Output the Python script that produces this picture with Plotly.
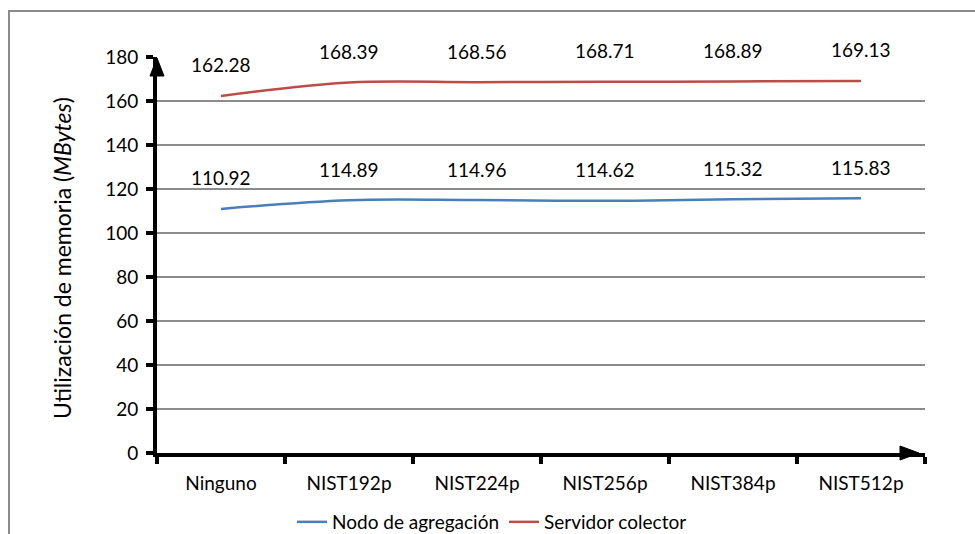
import plotly.graph_objects as go

# Chart data
categories = ["Ninguno", "NIST192p", "NIST224p", "NIST256p", "NIST384p", "NIST512p"]
nodo_agregacion = [110.92, 114.89, 114.96, 114.62, 115.32, 115.83]
servidor_colector = [162.28, 168.39, 168.56, 168.71, 168.89, 169.13]
y_ticks = [0, 20, 40, 60, 80, 100, 120, 140, 160, 180]

W, H = 975, 534
L, R, T, B = 157, 50, 57, 81
PW, PH = W - L - R, H - T - B
FONT = "Lato, Carlito, Calibri, sans-serif"
FS = 19


def px_x(px):
    return (px - L) / PW


def px_y(py):
    return (H - B - py) / PH


fig = go.Figure()
series = [
    ("Nodo de agregación", nodo_agregacion, "#4A7EBB"),
    ("Servidor colector", servidor_colector, "#BE4B48"),
]
for name, vals, color in series:
    fig.add_trace(go.Scatter(
        x=categories, y=vals, name=name, mode="lines",
        line=dict(color=color, width=2.5, shape="spline", smoothing=1),
    ))

annotations = []
for name, vals, color in series:
    for c, v in zip(categories, vals):
        annotations.append(dict(
            x=c, y=v, xref="x", yref="y", text=f"{v:.2f}", showarrow=False,
            yshift=31, font=dict(size=FS, color="black", family=FONT),
        ))

annotations.append(dict(
    x=px_x(46), y=px_y(258), xref="paper", yref="paper",
    text="Utilización de memoria (<i>MBytes</i>)", showarrow=False, textangle=-90,
    font=dict(size=23, color="black", family=FONT),
))

shapes = [
    # outer chart frame
    dict(type="rect", xref="paper", yref="paper",
         x0=px_x(9), x1=px_x(990), y0=px_y(11), y1=px_y(550),
         line=dict(color="#8c8c8c", width=2), fillcolor="rgba(0,0,0,0)", layer="below"),
    # arrowhead on the value axis
    dict(type="path", xref="paper", yref="paper",
         path=f"M {px_x(150)} {px_y(76)} L {px_x(164)} {px_y(76)} L {px_x(157)} {px_y(58)} Z",
         fillcolor="black", line=dict(color="black", width=1)),
    # arrowhead on the category axis
    dict(type="path", xref="paper", yref="paper",
         path=f"M {px_x(900)} {px_y(446)} L {px_x(900)} {px_y(460)} L {px_x(919)} {px_y(453)} Z",
         fillcolor="black", line=dict(color="black", width=1)),
]

fig.update_layout(
    width=W, height=H,
    margin=dict(l=L, r=R, t=T, b=B, autoexpand=False),
    paper_bgcolor="white", plot_bgcolor="white",
    font=dict(family=FONT, size=FS, color="black"),
    showlegend=True,
    legend=dict(orientation="h", x=px_x(492), y=px_y(522), xanchor="center", yanchor="middle",
                font=dict(size=FS, family=FONT), itemwidth=30, tracegroupgap=0),
    annotations=annotations,
    shapes=shapes,
    xaxis=dict(
        type="category", range=[-0.5, 5.5], showgrid=False,
        showline=True, linecolor="black", linewidth=4,
        ticks="outside", tickson="boundaries", ticklen=7, tickwidth=4, tickcolor="black",
        ticklabelstandoff=10,
        tickfont=dict(size=FS, family=FONT), fixedrange=True,
    ),
    yaxis=dict(
        range=[0, 180], tickvals=y_ticks, showgrid=True, gridcolor="#8c8c8c", gridwidth=2,
        showline=True, linecolor="black", linewidth=4, zeroline=False,
        ticks="outside", ticklen=7, tickwidth=4, tickcolor="black",
        ticklabelstandoff=4,
        tickfont=dict(size=FS, family=FONT), fixedrange=True,
    ),
)

fig.write_html("out.html")
